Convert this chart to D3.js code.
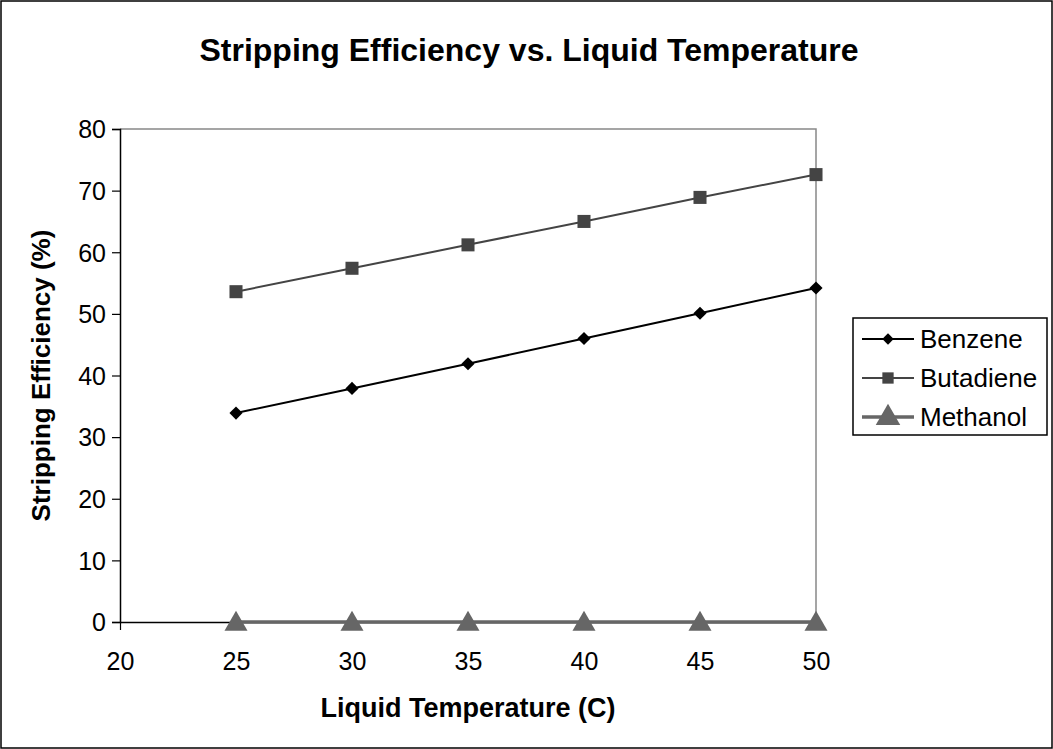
<!DOCTYPE html>
<html>
<head>
<meta charset="utf-8">
<script src="https://cdn.jsdelivr.net/npm/d3@7"></script>
<style>
  body { margin: 0; background: #fff; }
  text { font-family: "Liberation Sans", Arial, sans-serif; }
</style>
</head>
<body>
<div id="chart"></div>
<script>
// data
const temps = [25, 30, 35, 40, 45, 50];
const benzene = [33.9, 37.9, 41.9, 46.0, 50.1, 54.2];
const butadiene = [53.6, 57.4, 61.2, 65.0, 68.9, 72.6];
const methanol = [0, 0, 0, 0, 0, 0];
const xTicks = [20, 25, 30, 35, 40, 45, 50];
const yTicks = [0, 10, 20, 30, 40, 50, 60, 70, 80];

const W = 1053, H = 749;
const plot = { left: 120, right: 816, top: 129, bottom: 622 };

const svg = d3.select('#chart').append('svg')
    .attr('width', W)
    .attr('height', H);

// outer frame
svg.append('rect')
    .attr('x', 1).attr('y', 1)
    .attr('width', W - 2).attr('height', H - 2)
    .attr('fill', '#fff')
    .attr('stroke', '#000')
    .attr('stroke-width', 1.5);

const x = d3.scaleLinear().domain([20, 50]).range([plot.left, plot.right]);
const y = d3.scaleLinear().domain([0, 80]).range([plot.bottom, plot.top]);

// plot area border (top/right grey)
svg.append('path')
    .attr('d', `M${plot.left},${plot.top}H${plot.right}V${plot.bottom}`)
    .attr('fill', 'none')
    .attr('stroke', '#888')
    .attr('stroke-width', 1.5);

const xAxis = svg.append('g')
    .attr('transform', 'translate(0,' + plot.bottom + ')')
    .call(d3.axisBottom(x).tickValues(xTicks).tickSize(8).tickPadding(22).tickFormat(d3.format('d')));

const yAxis = svg.append('g')
    .attr('transform', 'translate(' + plot.left + ',0)')
    .call(d3.axisLeft(y).tickValues(yTicks).tickSize(8).tickPadding(6).tickFormat(d3.format('d')));

[xAxis, yAxis].forEach(g => {
  g.select('.domain').attr('stroke', '#000').attr('stroke-width', 1.5);
  g.selectAll('.tick line').attr('stroke', '#000').attr('stroke-width', 1.2);
  g.selectAll('.tick text')
      .attr('fill', '#000')
      .style('font-size', '25px')
      .style('font-family', '"Liberation Sans", Arial, sans-serif');
});
xAxis.select('.domain').attr('d', `M${plot.left},0.5H${plot.right}`);
yAxis.selectAll('.tick text').attr('dy', '0.35em');

// series
const series = [
  { name: 'Benzene', values: benzene, color: '#000', width: 2, symbol: d3.symbolDiamond2, size: 110 },
  { name: 'Butadiene', values: butadiene, color: '#444', width: 2, symbol: d3.symbolSquare, size: 170 },
  { name: 'Methanol', values: methanol, color: '#666', width: 3.5, symbol: d3.symbolTriangle, size: 230 }
];

const line = d3.line()
    .x((d, i) => x(temps[i]))
    .y(d => y(d));

series.forEach(s => {
  const g = svg.append('g');
  g.append('path')
      .datum(s.values)
      .attr('d', line)
      .attr('fill', 'none')
      .attr('stroke', s.color)
      .attr('stroke-width', s.width);
  g.selectAll('path.pt')
      .data(s.values)
      .enter()
      .append('path')
      .attr('class', 'pt')
      .attr('transform', (d, i) => 'translate(' + x(temps[i]) + ',' + (y(d) + (s.symbol === d3.symbolTriangle ? 2 : 0)) + ')')
      .attr('d', d3.symbol().type(s.symbol).size(s.size))
      .attr('fill', s.color);
});

// legend
const legend = svg.append('g').attr('transform', 'translate(853,318)');
legend.append('rect')
    .attr('width', 194).attr('height', 117)
    .attr('fill', '#fff')
    .attr('stroke', '#000')
    .attr('stroke-width', 1.5);

series.forEach((s, i) => {
  const ly = 21 + i * 39;
  legend.append('line')
      .attr('x1', 9).attr('x2', 61)
      .attr('y1', ly).attr('y2', ly)
      .attr('stroke', s.color)
      .attr('stroke-width', s.width);
  legend.append('path')
      .attr('transform', 'translate(35,' + (ly + (s.symbol === d3.symbolTriangle ? 1 : 0)) + ')')
      .attr('d', d3.symbol().type(s.symbol).size(s.symbol === d3.symbolTriangle ? 260 : s.size * 0.75))
      .attr('fill', s.color);
  legend.append('text')
      .attr('x', 67).attr('y', ly)
      .attr('dy', '0.35em')
      .style('font-size', '26px')
      .text(s.name);
});

// titles
svg.append('text')
    .attr('x', 529).attr('y', 61)
    .attr('text-anchor', 'middle')
    .style('font-size', '32px')
    .style('font-weight', 'bold')
    .text('Stripping Efficiency vs. Liquid Temperature');

svg.append('text')
    .attr('x', 468).attr('y', 717)
    .attr('text-anchor', 'middle')
    .style('font-size', '27px')
    .style('font-weight', 'bold')
    .text('Liquid Temperature (C)');

svg.append('text')
    .attr('transform', 'translate(50,' + (plot.top + plot.bottom) / 2 + ') rotate(-90)')
    .attr('text-anchor', 'middle')
    .style('font-size', '26px')
    .style('font-weight', 'bold')
    .text('Stripping Efficiency (%)');
</script>
</body>
</html>
